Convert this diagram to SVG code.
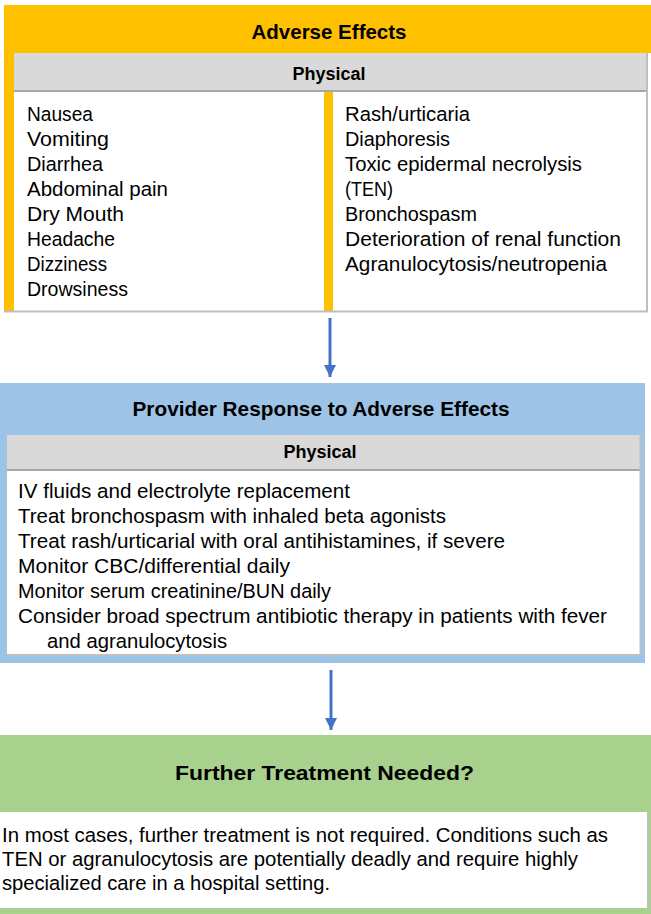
<svg xmlns="http://www.w3.org/2000/svg" width="651" height="914" viewBox="0 0 651 914">
<defs>
<style>
text{font-family:"Liberation Sans",Arial,sans-serif;fill:#000}
.t{font-size:20.5px;font-weight:bold;text-anchor:middle}
.s{font-size:18px;font-weight:bold;text-anchor:middle}
.b{font-size:20.5px}
.band{fill:#D9D9D9}
.white{fill:#FFFFFF}
.edge{stroke:#BFBFBF;stroke-width:2;fill:none}
.dark{stroke:#A6A6A6;stroke-width:2;fill:none}
.conn{stroke:#4472C4;stroke-width:3;fill:none}
</style>
<marker id="ah" viewBox="0 0 10 10" refX="10" refY="5" markerWidth="4" markerHeight="4" markerUnits="strokeWidth" orient="auto">
<path d="M0,0 L10,5 L0,10 Z" fill="#4472C4"/>
</marker>
</defs>
<rect width="651" height="914" fill="#FFFFFF"/>

<g id="adverse-effects">
<rect x="4" y="5" width="647" height="48" fill="#FFC000"/>
<rect x="4" y="53" width="10" height="259" fill="#FFC000"/>
<rect class="band" x="14" y="53" width="633" height="38"/>
<rect class="white" x="14" y="92" width="633" height="219"/>
<rect x="324" y="92" width="9" height="219" fill="#FFC000"/>
<line class="dark" x1="14" y1="91" x2="647" y2="91"/>
<line class="edge" x1="647" y1="53" x2="647" y2="312"/>
<line class="edge" x1="4" y1="311.5" x2="648" y2="311.5"/>
<text class="t" x="329" y="39" textLength="155" lengthAdjust="spacingAndGlyphs">Adverse Effects</text>
<text class="s" x="329" y="80">Physical</text>
<text class="b" x="27" y="121" textLength="66" lengthAdjust="spacingAndGlyphs">Nausea</text>
<text class="b" x="27" y="146" textLength="82" lengthAdjust="spacingAndGlyphs">Vomiting</text>
<text class="b" x="27" y="171" textLength="76" lengthAdjust="spacingAndGlyphs">Diarrhea</text>
<text class="b" x="27" y="196" textLength="141" lengthAdjust="spacingAndGlyphs">Abdominal pain</text>
<text class="b" x="27" y="221" textLength="97" lengthAdjust="spacingAndGlyphs">Dry Mouth</text>
<text class="b" x="27" y="246" textLength="88" lengthAdjust="spacingAndGlyphs">Headache</text>
<text class="b" x="27" y="271" textLength="80" lengthAdjust="spacingAndGlyphs">Dizziness</text>
<text class="b" x="27" y="296" textLength="101" lengthAdjust="spacingAndGlyphs">Drowsiness</text>
<text class="b" x="345" y="121" textLength="125" lengthAdjust="spacingAndGlyphs">Rash/urticaria</text>
<text class="b" x="345" y="146" textLength="105" lengthAdjust="spacingAndGlyphs">Diaphoresis</text>
<text class="b" x="345" y="171" textLength="237" lengthAdjust="spacingAndGlyphs">Toxic epidermal necrolysis</text>
<text class="b" x="345" y="196" textLength="48" lengthAdjust="spacingAndGlyphs">(TEN)</text>
<text class="b" x="345" y="221" textLength="132" lengthAdjust="spacingAndGlyphs">Bronchospasm</text>
<text class="b" x="345" y="246" textLength="276" lengthAdjust="spacingAndGlyphs">Deterioration of renal function</text>
<text class="b" x="345" y="271" textLength="262" lengthAdjust="spacingAndGlyphs">Agranulocytosis/neutropenia</text>
</g>

<g id="provider-response">
<rect x="0" y="383" width="645" height="280" fill="#9DC3E6"/>
<rect class="band" x="7" y="435" width="634" height="35"/>
<rect class="white" x="7" y="471" width="634" height="184"/>
<line class="dark" x1="7" y1="470" x2="641" y2="470"/>
<line class="edge" x1="640.5" y1="435" x2="640.5" y2="655"/>
<line class="edge" x1="7" y1="655" x2="641" y2="655"/>
<text class="t" x="321" y="416" textLength="377" lengthAdjust="spacingAndGlyphs">Provider Response to Adverse Effects</text>
<text class="s" x="320" y="458">Physical</text>
<text class="b" x="18" y="498" textLength="332" lengthAdjust="spacingAndGlyphs">IV fluids and electrolyte replacement</text>
<text class="b" x="18" y="523" textLength="428" lengthAdjust="spacingAndGlyphs">Treat bronchospasm with inhaled beta agonists</text>
<text class="b" x="18" y="548" textLength="487" lengthAdjust="spacingAndGlyphs">Treat rash/urticarial with oral antihistamines, if severe</text>
<text class="b" x="18" y="573" textLength="272" lengthAdjust="spacingAndGlyphs">Monitor CBC/differential daily</text>
<text class="b" x="18" y="598" textLength="313" lengthAdjust="spacingAndGlyphs">Monitor serum creatinine/BUN daily</text>
<text class="b" x="18" y="623" textLength="589" lengthAdjust="spacingAndGlyphs">Consider broad spectrum antibiotic therapy in patients with fever</text>
<text class="b" x="47" y="648" textLength="180" lengthAdjust="spacingAndGlyphs">and agranulocytosis</text>
</g>

<g id="further-treatment">
<rect x="0" y="735" width="651" height="179" fill="#A9D18E"/>
<rect class="white" x="0" y="812" width="648" height="96"/>
<line class="edge" x1="648" y1="812" x2="648" y2="908"/>
<text class="t" x="324.5" y="780" textLength="299" lengthAdjust="spacingAndGlyphs">Further Treatment Needed?</text>
<text class="b" x="2" y="842" textLength="606" lengthAdjust="spacingAndGlyphs">In most cases, further treatment is not required. Conditions such as</text>
<text class="b" x="2" y="866" textLength="576" lengthAdjust="spacingAndGlyphs">TEN or agranulocytosis are potentially deadly and require highly</text>
<text class="b" x="2" y="890" textLength="328" lengthAdjust="spacingAndGlyphs">specialized care in a hospital setting.</text>
</g>

<g id="connectors">
<line class="conn" x1="330" y1="318" x2="330" y2="377" marker-end="url(#ah)"/>
<line class="conn" x1="331" y1="670" x2="331" y2="730" marker-end="url(#ah)"/>
</g>
</svg>
